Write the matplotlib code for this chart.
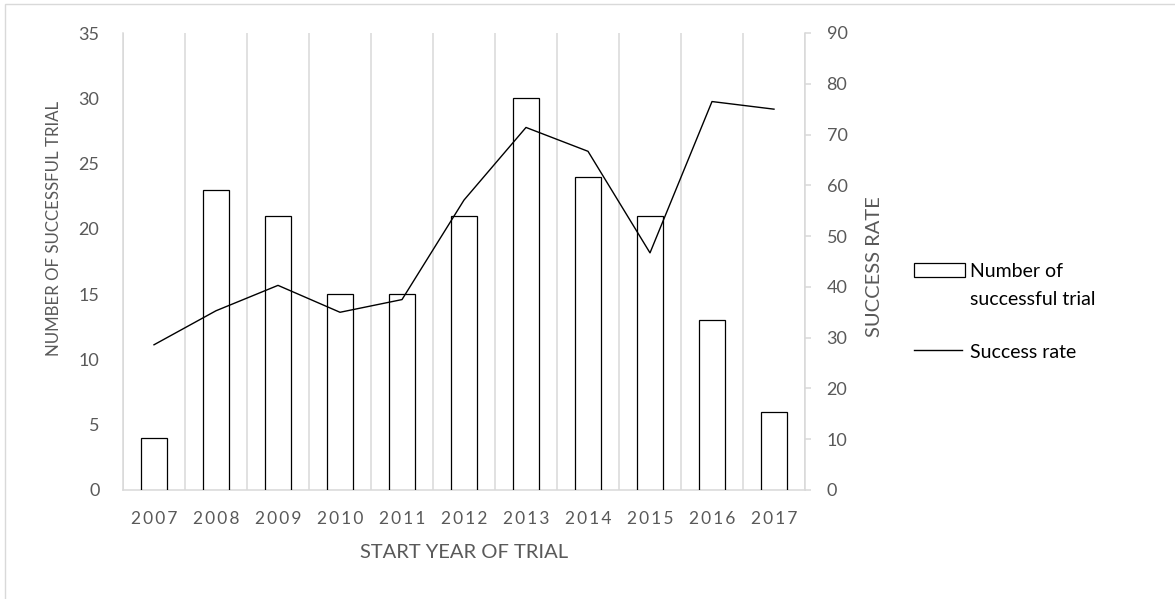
import matplotlib.pyplot as plt
import matplotlib.patches as mpatches
import matplotlib.lines as mlines
import numpy as np

plt.rcParams['font.family'] = ['Lato', 'DejaVu Sans']

years = ['2007', '2008', '2009', '2010', '2011', '2012', '2013', '2014', '2015', '2016', '2017']
n_success = [4, 23, 21, 15, 15, 21, 30, 24, 21, 13, 6]
success_rate = [28.6, 35.3, 40.3, 35.0, 37.5, 57.1, 71.4, 66.7, 46.7, 76.5, 75.0]

grey = '#d9d9d9'
txt = '#595959'
W, H = 1175, 599

fig = plt.figure(figsize=(W / 100, H / 100), dpi=100)
ax = fig.add_axes([123 / W, 1 - 490 / H, (805 - 123) / W, (490 - 33) / H])

# outer frame of the chart
fig.patches.append(mpatches.Rectangle((5 / W, -0.1), 1.2, 1.1 - 4 / H,
                                      transform=fig.transFigure, fill=False,
                                      edgecolor=grey, linewidth=1))

x = np.arange(len(years))
ax.bar(x, n_success, width=0.42, facecolor='white', edgecolor='black',
       linewidth=0.9, zorder=3)
ax.set_xlim(-0.5, len(years) - 0.5)
ax.set_ylim(0, 35)
ax.set_yticks(np.arange(0, 36, 5))
ax.set_xticks(x)
ax.set_xticklabels(['\u2009'.join(y) for y in years])
ax.set_xticks(np.arange(-0.5, len(years), 1), minor=True)
ax.grid(True, which='minor', axis='x', color=grey, linewidth=1.1, zorder=0)
ax.tick_params(axis='x', which='both', length=0, pad=15, labelsize=12.5, labelcolor=txt)
ax.tick_params(axis='y', length=0, pad=17, labelsize=13, labelcolor=txt)
for s in ['top', 'right']:
    ax.spines[s].set_visible(False)
for s in ['left', 'bottom']:
    ax.spines[s].set_color(grey)
    ax.spines[s].set_linewidth(1.1)

ax.set_xlabel('START YEAR OF TRIAL', fontsize=14.5, color=txt)
ax.xaxis.set_label_coords(0.5, -(544 - 490) / (490 - 33))
ax.set_ylabel('NUMBER OF SUCCESSFUL TRIAL', fontsize=12.2, color=txt)
ax.yaxis.set_label_coords(-(123 - 62) / (805 - 123), (490 - 228) / (490 - 33))

ax2 = ax.twinx()
ax2.plot(x, success_rate, color='black', linewidth=1.0, zorder=4)
ax2.set_ylim(0, 90)
ax2.set_yticks(np.arange(0, 91, 10))
ax2.tick_params(axis='y', direction='out', length=4.5, width=1.1, color=grey,
                pad=11, labelsize=13, labelcolor=txt)
for s in ['top', 'left', 'bottom']:
    ax2.spines[s].set_visible(False)
ax2.spines['right'].set_color(grey)
ax2.spines['right'].set_linewidth(1.1)
ax2.set_ylabel('SUCCESS RATE', fontsize=14.5, color=txt)
ax2.yaxis.set_label_coords(1 + (866 - 805) / (805 - 123), (490 - 267) / (490 - 33))

# legend, laid out by hand like the Excel one
def fx(px):
    return px / W

def fy(py):
    return 1 - py / H

fig.patches.append(mpatches.Rectangle((fx(914), fy(277)), fx(965) - fx(914), fy(263) - fy(277),
                                      transform=fig.transFigure, facecolor='white',
                                      edgecolor='black', linewidth=0.9))
fig.lines.append(mlines.Line2D([fx(914), fx(962)], [fy(350), fy(350)],
                               transform=fig.transFigure, color='black', linewidth=1.0))
fig.text(fx(970), fy(277), 'Number of', fontsize=14, va='baseline', ha='left')
fig.text(fx(970), fy(305), 'successful trial', fontsize=14, va='baseline', ha='left')
fig.text(fx(970), fy(358), 'Success rate', fontsize=14, va='baseline', ha='left')

fig.savefig('out.png', dpi=100)
